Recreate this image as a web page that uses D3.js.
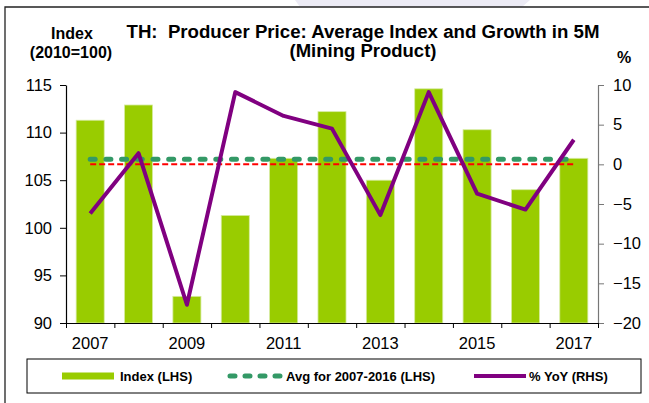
<!DOCTYPE html>
<html>
<head>
<meta charset="utf-8">
<script src="https://cdn.jsdelivr.net/npm/d3@7"></script>
<style>
  body { margin: 0; background: #fff; }
  svg { display: block; font-family: "Liberation Sans", Arial, sans-serif; }
  text { white-space: pre; }
</style>
</head>
<body>
<div id="chart"></div>
<script>
const years = [2007, 2008, 2009, 2010, 2011, 2012, 2013, 2014, 2015, 2016, 2017];
const indexValues = [111.3, 112.9, 92.8, 101.3, 107.3, 112.2, 105.0, 114.6, 110.3, 104.0, 107.3];
const yoyValues = [-6.2, 1.4, -17.7, 9.1, 6.1, 4.5, -6.4, 9.1, -3.7, -5.7, 3.1];
const avgValue = 107.2;
const leftTicks = [90, 95, 100, 105, 110, 115];
const rightTicks = [-20, -15, -10, -5, 0, 5, 10];
const yearLabels = [2007, 2009, 2011, 2013, 2015, 2017];

const W = 649, H = 403;
const plot = { left: 66, right: 598, top: 85, bottom: 323 };

const svg = d3.select('#chart')
    .append('svg')
    .attr('width', W)
    .attr('height', H);

// faint watermark bit at the top
svg.append('path')
    .attr('d', 'M295,0 L530,0 L522,7 L300,7 Z')
    .attr('fill', '#ecebf5');

// outer frame (top and left edges)
svg.append('path')
    .attr('d', `M5,${H} L5,7 L${W},7`)
    .attr('fill', 'none')
    .attr('stroke', '#222')
    .attr('stroke-width', 1.3);

const x = d3.scaleBand()
    .domain(years)
    .range([plot.left, plot.right])
    .paddingInner(0.42)
    .paddingOuter(0.21);

const xc = d => x(d) + x.bandwidth() / 2;

const yL = d3.scaleLinear().domain([90, 115]).range([plot.bottom, plot.top]);
const yR = d3.scaleLinear().domain([-20, 10]).range([plot.bottom, plot.top]);

// bars
svg.append('g')
    .selectAll('rect')
    .data(years)
    .join('rect')
    .attr('x', d => x(d))
    .attr('y', (d, i) => yL(indexValues[i]))
    .attr('width', x.bandwidth())
    .attr('height', (d, i) => plot.bottom - yL(indexValues[i]))
    .attr('fill', '#99CC00')
    .attr('stroke', '#d6eba0')
    .attr('stroke-width', 0.8);

// average line
svg.append('line')
    .attr('x1', xc(years[0]))
    .attr('x2', xc(years[years.length - 1]))
    .attr('y1', yL(avgValue))
    .attr('y2', yL(avgValue))
    .attr('stroke', '#339966')
    .attr('stroke-width', 5)
    .attr('stroke-linecap', 'round')
    .attr('stroke-dasharray', '5 10.7');

// zero line of the RHS
svg.append('line')
    .attr('x1', xc(years[0]))
    .attr('x2', xc(years[years.length - 1]))
    .attr('y1', yR(0))
    .attr('y2', yR(0))
    .attr('stroke', '#FF0000')
    .attr('stroke-width', 2)
    .attr('stroke-dasharray', '6 3');

// yoy line
const line = d3.line()
    .x((d, i) => xc(years[i]))
    .y(d => yR(d));

svg.append('path')
    .datum(yoyValues)
    .attr('d', line)
    .attr('fill', 'none')
    .attr('stroke', '#800080')
    .attr('stroke-width', 4)
    .attr('stroke-linejoin', 'round');

// left axis
const gL = svg.append('g')
    .attr('transform', `translate(${plot.left},0)`)
    .call(d3.axisLeft(yL).tickValues(leftTicks).tickSize(6).tickPadding(8).tickSizeOuter(0));
gL.select('.domain').attr('stroke', '#000').attr('stroke-width', 1.2);
gL.selectAll('.tick line').attr('stroke', '#000');
gL.selectAll('text').attr('font-size', 16.5).attr('fill', '#000')
    .attr('font-family', '"Liberation Sans", Arial, sans-serif');

// right axis
const gR = svg.append('g')
    .attr('transform', `translate(${plot.right},0)`)
    .call(d3.axisRight(yR).tickValues(rightTicks).tickSize(6).tickPadding(9).tickSizeOuter(0));
gR.select('.domain').attr('stroke', '#777').attr('stroke-width', 1.2);
gR.selectAll('.tick line').attr('stroke', '#777');
gR.selectAll('text').attr('font-size', 16.5).attr('fill', '#000')
    .attr('font-family', '"Liberation Sans", Arial, sans-serif');

// x axis: tick marks at band boundaries, labels every other year
const xEdges = d3.scaleLinear().domain([0, years.length]).range([plot.left, plot.right]);
const gX = svg.append('g')
    .attr('transform', `translate(0,${plot.bottom})`)
    .call(d3.axisBottom(xEdges).ticks(years.length).tickSize(5).tickFormat('').tickSizeOuter(0));
gX.select('.domain').attr('stroke', '#000').attr('stroke-width', 1.2);
gX.selectAll('.tick line').attr('stroke', '#000');

svg.append('g')
    .selectAll('text')
    .data(yearLabels)
    .join('text')
    .attr('x', d => xc(d))
    .attr('y', 349)
    .attr('text-anchor', 'middle')
    .attr('font-size', 16.5)
    .text(d => d);

// titles
const bold = (t, xx, yy, anchor, size) => svg.append('text')
    .attr('x', xx).attr('y', yy)
    .attr('text-anchor', anchor)
    .attr('font-size', size)
    .attr('font-weight', 'bold')
    .text(t);

bold('TH:  Producer Price: Average Index and Growth in 5M', 363, 38, 'middle', 17.5)
    .attr('textLength', 473).attr('lengthAdjust', 'spacingAndGlyphs');
bold('(Mining Product)', 363, 57, 'middle', 17.5)
    .attr('textLength', 147).attr('lengthAdjust', 'spacingAndGlyphs');
bold('Index', 72, 39, 'middle', 16);
bold('(2010=100)', 71, 58, 'middle', 16);
bold('%', 624, 63, 'middle', 16);

// legend
const lg = svg.append('g');
lg.append('rect')
    .attr('x', 27).attr('y', 359)
    .attr('width', 614).attr('height', 34)
    .attr('fill', 'none')
    .attr('stroke', '#000')
    .attr('stroke-width', 1);

const legendY = 376;
lg.append('line')
    .attr('x1', 62).attr('x2', 114).attr('y1', legendY).attr('y2', legendY)
    .attr('stroke', '#99CC00').attr('stroke-width', 7);
lg.append('line')
    .attr('x1', 230).attr('x2', 280).attr('y1', legendY).attr('y2', legendY)
    .attr('stroke', '#339966').attr('stroke-width', 5)
    .attr('stroke-linecap', 'round').attr('stroke-dasharray', '5 10');
lg.append('line')
    .attr('x1', 474).attr('x2', 526).attr('y1', legendY).attr('y2', legendY)
    .attr('stroke', '#800080').attr('stroke-width', 4);

const legendText = [
    { t: 'Index (LHS)', x: 120 },
    { t: 'Avg for 2007-2016 (LHS)', x: 286 },
    { t: '% YoY (RHS)', x: 529 }
];
lg.selectAll('text.lt')
    .data(legendText)
    .join('text')
    .attr('class', 'lt')
    .attr('x', d => d.x)
    .attr('y', legendY + 5)
    .attr('font-size', 13)
    .attr('font-weight', 'bold')
    .text(d => d.t);
</script>
</body>
</html>
